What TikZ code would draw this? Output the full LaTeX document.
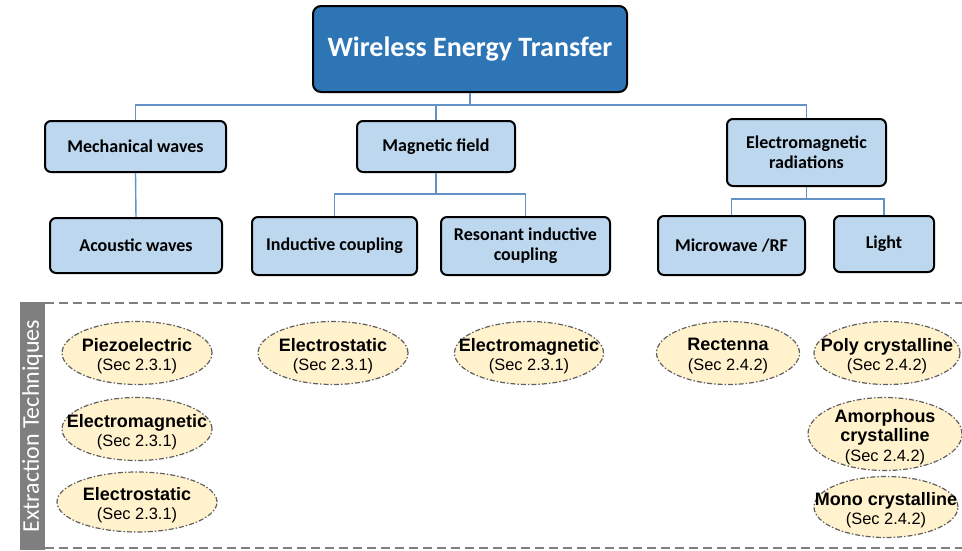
\documentclass[tikz,border=0pt]{standalone}
\usepackage{fontspec}
\setmainfont{Carlito}
\newfontfamily\arialfont{Liberation Sans}
\usepackage{tikz}
\usetikzlibrary{calc}

\definecolor{wetblue}{RGB}{46,117,182}
\definecolor{boxblue}{RGB}{189,215,238}
\definecolor{linkblue}{RGB}{100,145,198}
\definecolor{techyellow}{RGB}{255,242,204}
\definecolor{techgray}{RGB}{95,95,95}
\definecolor{bargray}{RGB}{127,127,127}

\begin{document}
\begin{tikzpicture}[x=1pt, y=-1pt,
    topbox/.style={draw=black, line width=2pt, rounded corners=8pt, fill=wetblue, text=white,
        font=\fontsize{28}{33}\selectfont\bfseries, minimum width=314pt, minimum height=86pt},
    catbox/.style={draw=black, line width=2pt, rounded corners=6pt, fill=boxblue, align=center,
        font=\fontsize{18}{20}\selectfont\bfseries, inner sep=0pt},
    link/.style={draw=linkblue, line width=1.4pt},
    techshape/.style={fill=techyellow, draw=techgray, line width=1.2pt,
        dash pattern=on 5pt off 2pt on 1.5pt off 2pt},
    techtext/.style={align=center, font=\arialfont\fontsize{18}{19.5}\selectfont, inner sep=0pt, yshift=-3pt},
    sepline/.style={draw=bargray, line width=2.5pt, dash pattern=on 9pt off 5pt}]
    \useasboundingbox (0,0) rectangle (962,550);

    % root
    \node[topbox] (wet) at (470,49) {Wireless Energy Transfer};

    % first level
    \node[catbox, minimum width=181pt, minimum height=51pt] (mech) at (135.5,146.5) {Mechanical waves};
    \node[catbox, minimum width=158pt, minimum height=51pt] (mag) at (436,146.5) {Magnetic field};
    \node[catbox, minimum width=159pt, minimum height=67pt] (emr) at (806.5,152.5) {Electromagnetic\\radiations};

    % second level
    \node[catbox, minimum width=172pt, minimum height=55pt] (acou) at (136,245.5) {Acoustic waves};
    \node[catbox, minimum width=165pt, minimum height=58pt] (induct) at (334.5,246) {Inductive coupling};
    \node[catbox, minimum width=169pt, minimum height=58pt] (reson) at (525.5,246) {Resonant inductive\\coupling};
    \node[catbox, minimum width=147pt, minimum height=59pt] (micro) at (731.5,245.5) {Microwave /RF};
    \node[catbox, minimum width=100pt, minimum height=56pt] (light) at (884,244) {Light};

    % connectors
    \draw[link] (wet.south) -- ++(0,12) -| (mech.north);
    \draw[link] (wet.south) -- ++(0,12) -| (mag.north);
    \draw[link] (wet.south) -- ++(0,12) -| (emr.north);
    \draw[link] (mech.south) -- (acou.north);
    \draw[link] (mag.south) -- ++(0,21) -| (induct.north);
    \draw[link] (mag.south) -- ++(0,21) -| (reson.north);
    \draw[link] (emr.south) -- ++(0,12) -| (micro.north);
    \draw[link] (emr.south) -- ++(0,12) -| (light.north);

    % extraction part
    \draw[sepline] (45,303) -- (962,303);
    \draw[sepline] (45,548) -- (962,548);
    \fill[bargray] (20,302) rectangle (45,550);
    \node[rotate=90, text=white, font=\fontsize{24}{24}\selectfont] (extr) at (32.5,426) {Extraction Techniques};

    % techniques
    \foreach \nm/\cx/\cy/\ra/\rb/\txt/\secno in {piezo/137/353/75/31.5/Piezoelectric/2.3.1,
        emagA/137/429/75/31.5/Electromagnetic/2.3.1,
        estatA/137/502/80/30/Electrostatic/2.3.1,
        estatB/333/353/75/31.5/Electrostatic/2.3.1,
        emagB/529/353/74.5/31.5/Electromagnetic/2.3.1,
        recten/728/353/71.5/31.5/Rectenna/2.4.2,
        poly/887/353/73/31.5/Poly crystalline/2.4.2,
        amor/885/434/77/36.5/{Amorphous\\\bfseries crystalline}/2.4.2,
        mono/886/507/72/30.5/Mono crystalline/2.4.2} {
        \draw[techshape] (\cx,\cy) ellipse ({\ra pt} and {\rb pt});
        \node[techtext] (\nm) at (\cx,\cy) {\bfseries \txt\\\mdseries\fontsize{16.4}{19.5}\selectfont (Sec \secno)};
    }
\end{tikzpicture}
\end{document}
